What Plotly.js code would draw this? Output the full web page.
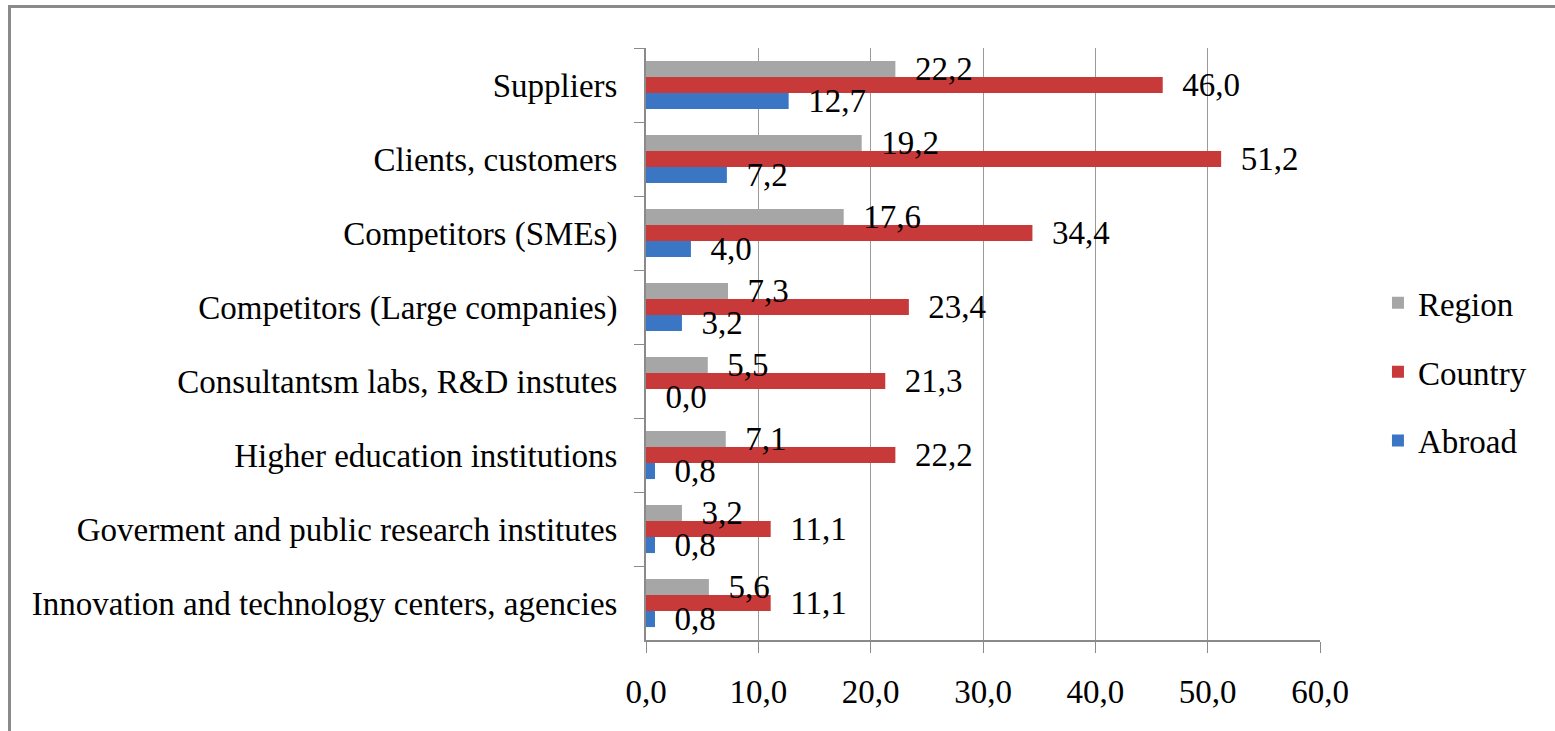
<!DOCTYPE html>
<html>
<head>
<meta charset="utf-8">
<script src="https://cdn.plot.ly/plotly-3.0.1.min.js"></script>
<style>
  html, body { margin: 0; padding: 0; background: #fff; }
  #wrap { position: relative; width: 1555px; height: 731px; }
  #chart { width: 1555px; height: 731px; }
  #frame { position: absolute; left: 8px; top: 5px; width: 1560px; height: 740px;
           border-left: 3px solid #8a8a8a; border-top: 3px solid #8a8a8a; pointer-events: none; }
</style>
</head>
<body>
<div id="wrap">
  <div id="chart"></div>
  <div id="frame"></div>
</div>
<script>
const categories = [
  "Suppliers",
  "Clients, customers",
  "Competitors (SMEs)",
  "Competitors (Large companies)",
  "Consultantsm labs, R&D instutes",
  "Higher education institutions",
  "Goverment and public research institutes",
  "Innovation and technology centers, agencies"
];
const region  = [22.2, 19.2, 17.6, 7.3, 5.5, 7.1, 3.2, 5.6];
const country = [46.0, 51.2, 34.4, 23.4, 21.3, 22.2, 11.1, 11.1];
const abroad  = [12.7, 7.2, 4.0, 3.2, 0.0, 0.8, 0.8, 0.8];
const xTicks  = [0, 10, 20, 30, 40, 50, 60];

const FONT = "'Liberation Serif', 'Times New Roman', serif";
const FS = 33;

function bars(name, vals, color, grp) {
  return {
    type: "bar",
    orientation: "h",
    name: name,
    x: vals,
    y: categories,
    legendgroup: grp,
    offsetgroup: grp,
    marker: { color: color },
    hoverinfo: "x+y+name"
  };
}
function labels(vals, grp) {
  return {
    type: "bar",
    orientation: "h",
    x: vals,
    y: categories,
    legendgroup: grp,
    offsetgroup: grp,
    showlegend: false,
    marker: { color: "rgba(0,0,0,0)" },
    texttemplate: "\u00a0\u00a0%{x:.1f}",
    textposition: "outside",
    constraintext: "none",
    cliponaxis: false,
    textfont: { family: FONT, size: FS, color: "#000" },
    hoverinfo: "skip"
  };
}

const data = [
  bars("Region", region, "#a6a6a6", "g1"),
  bars("Country", country, "#c8393a", "g2"),
  bars("Abroad", abroad, "#3b76c4", "g3"),
  labels(region, "g1"),
  labels(country, "g2"),
  labels(abroad, "g3")
];

const layout = {
  width: 1555,
  height: 731,
  paper_bgcolor: "#fff",
  plot_bgcolor: "#fff",
  separators: ", ",
  margin: { l: 646, r: 235, t: 48, b: 91, pad: 0 },
  barmode: "group",
  bargap: 0.35,
  bargroupgap: 0,
  showlegend: true,
  font: { family: FONT, size: FS, color: "#000" },
  xaxis: {
    range: [0, 60],
    tickvals: xTicks,
    tickformat: ".1f",
    showgrid: true,
    gridcolor: "#9a9a9a",
    gridwidth: 1,
    zeroline: false,
    showline: true,
    linecolor: "#8a8a8a",
    linewidth: 2,
    ticks: "outside",
    ticklen: 11,
    tickcolor: "#8a8a8a",
    tickwidth: 1,
    ticklabelstandoff: 10,
    tickfont: { family: FONT, size: FS, color: "#000" },
    fixedrange: true
  },
  yaxis: {
    autorange: "reversed",
    type: "category",
    showgrid: false,
    zeroline: false,
    showline: true,
    linecolor: "#8a8a8a",
    linewidth: 2,
    ticks: "outside",
    tickson: "boundaries",
    ticklen: 10,
    tickcolor: "#8a8a8a",
    tickwidth: 1,
    ticklabelstandoff: 20,
    tickfont: { family: FONT, size: FS, color: "#000" },
    fixedrange: true
  },
  legend: {
    x: 1.086,
    xanchor: "left",
    y: 0.453,
    yanchor: "middle",
    traceorder: "grouped",
    tracegroupgap: 23,
    font: { family: FONT, size: FS, color: "#000" },
    bgcolor: "rgba(0,0,0,0)"
  }
};

Plotly.newPlot("chart", data, layout, { displayModeBar: false, staticPlot: true });
</script>
</body>
</html>
